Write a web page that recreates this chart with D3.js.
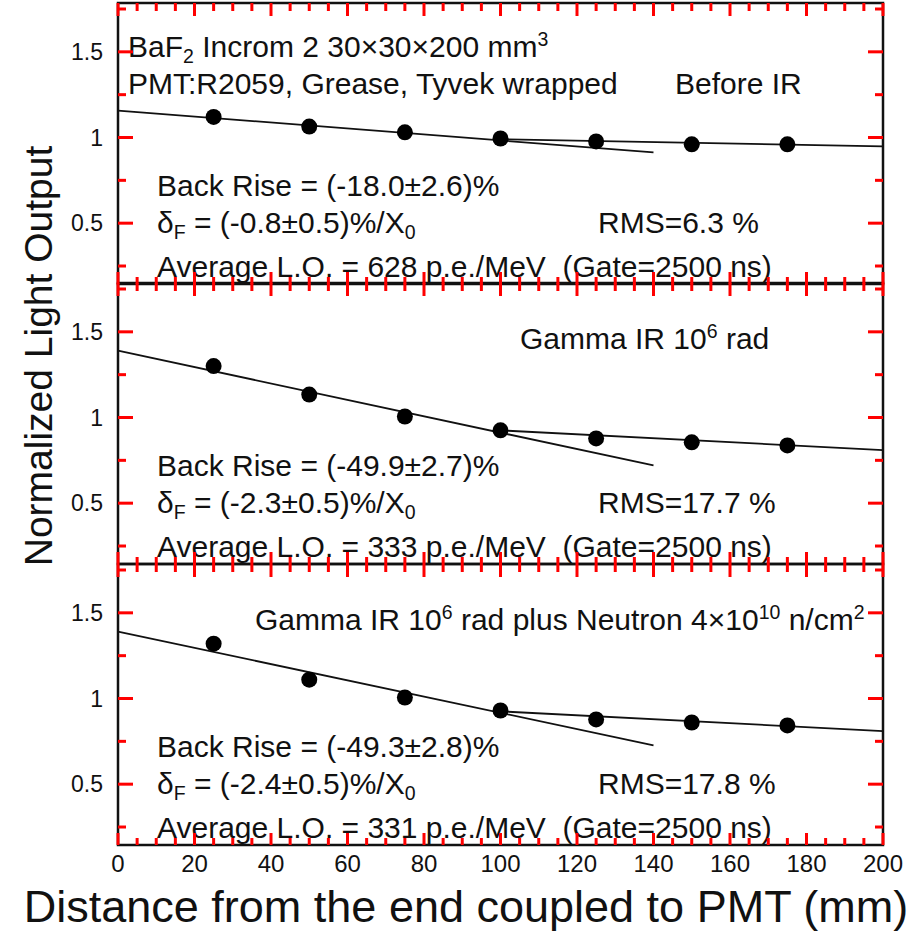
<!DOCTYPE html>
<html>
<head>
<meta charset="utf-8">
<script src="https://cdn.jsdelivr.net/npm/d3@7"></script>
<style>
  body { margin: 0; background: #fff; }
  text { font-family: "Liberation Sans", Arial, sans-serif; fill: #111; white-space: pre; }
</style>
</head>
<body>
<div id="chart"></div>
<script>
// distance along crystal (mm)
var positions = [25, 50, 75, 100, 125, 150, 175];

// normalized light output
var beforeIR = [1.12, 1.064, 1.03, 0.994, 0.977, 0.96, 0.96];
var gammaIR = [1.30, 1.134, 1.006, 0.925, 0.878, 0.855, 0.837];
var gammaNeutronIR = [1.32, 1.11, 1.006, 0.93, 0.878, 0.86, 0.843];

// linear fits: [x0, y0, x1, y1]
var frontFits = [[0, 1.157, 140, 0.913], [0, 1.39, 140, 0.72], [0, 1.39, 140, 0.727]];
var backFits = [[100, 0.99, 200, 0.948], [100, 0.925, 200, 0.81], [100, 0.925, 200, 0.81]];

var backRise = ["(-18.0\u00b12.6)%", "(-49.9\u00b12.7)%", "(-49.3\u00b12.8)%"];
var deltaF = ["(-0.8\u00b10.5)%/X", "(-2.3\u00b10.5)%/X", "(-2.4\u00b10.5)%/X"];
var rms = ["RMS=6.3 %", "RMS=17.7 %", "RMS=17.8 %"];
var avgLO = [628, 333, 331];

var xMajor = [0, 20, 40, 60, 80, 100, 120, 140, 160, 180, 200];
var yMajor = [0.5, 1, 1.5];
var yMinor = [0.25, 0.75, 1.25, 1.75];

var width = 918, height = 934;
var plotL = 118, plotR = 883;
var panelTops = [3, 283, 564], panelH = 281;

var svg = d3.select("#chart").append("svg")
  .attr("width", width)
  .attr("height", height);

var x = d3.scaleLinear().domain([0, 200]).range([plotL, plotR]);
var xMinor = d3.range(5, 200, 5).filter(function(d){ return d % 20 != 0; });

var series = [beforeIR, gammaIR, gammaNeutronIR];
var tickSegs = [];

series.forEach(function(vals, p) {
  var pTop = panelTops[p], pBot = pTop + panelH;
  var y = d3.scaleLinear().domain([0.145, 1.785]).range([pBot, pTop]);
  var g = svg.append("g");

  // collect inward tick segments on all four sides
  xMajor.forEach(function(v) {
    tickSegs.push([x(v), pBot, x(v), pBot - 12]);
    tickSegs.push([x(v), pTop, x(v), pTop + 13]);
  });
  xMinor.forEach(function(v) {
    tickSegs.push([x(v), pBot, x(v), pBot - 7]);
    tickSegs.push([x(v), pTop, x(v), pTop + 8]);
  });
  yMajor.forEach(function(v) {
    tickSegs.push([plotL, y(v), plotL + 15, y(v)]);
    tickSegs.push([plotR, y(v), plotR - 15, y(v)]);
  });
  yMinor.forEach(function(v) {
    tickSegs.push([plotL, y(v), plotL + 8, y(v)]);
    tickSegs.push([plotR, y(v), plotR - 8, y(v)]);
  });

  g.selectAll(".ylab").data(yMajor).enter().append("text")
    .attr("x", plotL - 15).attr("y", function(d){ return y(d); })
    .attr("dy", "0.36em")
    .attr("text-anchor", "end")
    .attr("font-size", 23)
    .text(function(d){ return d3.format("")(d); });

  if (p == 2) {
    g.selectAll(".xlab").data(xMajor).enter().append("text")
      .attr("x", function(d){ return x(d); }).attr("y", pBot + 27)
      .attr("text-anchor", "middle")
      .attr("font-size", 24)
      .text(function(d){ return d; });
  }

  // fit lines
  [frontFits[p], backFits[p]].forEach(function(f) {
    g.append("line")
      .attr("x1", x(f[0])).attr("y1", y(f[1]))
      .attr("x2", x(f[2])).attr("y2", y(f[3]))
      .attr("stroke", "#111").attr("stroke-width", 1.8);
  });

  // points
  g.selectAll("circle").data(vals).enter().append("circle")
    .attr("cx", function(d, i){ return x(positions[i]); })
    .attr("cy", function(d){ return y(d); })
    .attr("r", 8)
    .attr("fill", "#000");

  // annotations
  var fs = 30;
  function txt(tx, ty) {
    return g.append("text").attr("x", tx).attr("y", pTop + ty).attr("font-size", fs);
  }
  function sub(t, s, shift) {
    t.append("tspan").attr("font-size", fs * 0.65).attr("baseline-shift", shift).text(s);
  }
  txt(157, 193).text("Back Rise = " + backRise[p]);
  var df = txt(157, 230);
  df.append("tspan").text("\u03b4");
  sub(df, "F", "-30%");
  df.append("tspan").text(" = " + deltaF[p]);
  sub(df, "0", "-30%");
  txt(598, 230).text(rms[p]);
  txt(157, 274).text("Average L.O. = " + avgLO[p] + " p.e./MeV  (Gate=2500 ns)");

  if (p == 0) {
    var t1 = txt(128, 54);
    t1.append("tspan").text("BaF");
    sub(t1, "2", "-30%");
    t1.append("tspan").text(" Incrom 2 30\u00d730\u00d7200 mm");
    sub(t1, "3", "55%");
    txt(128, 91).text("PMT:R2059, Grease, Tyvek wrapped");
    txt(675, 91).text("Before IR");
  } else {
    var gt = txt(p == 1 ? 520 : 255, 66);
    gt.append("tspan").text("Gamma IR 10");
    sub(gt, "6", "55%");
    gt.append("tspan").text(" rad");
    if (p == 2) {
      gt.append("tspan").text(" plus Neutron 4\u00d710");
      sub(gt, "10", "55%");
      gt.append("tspan").text(" n/cm");
      sub(gt, "2", "55%");
    }
  }

  // frame
  g.append("rect")
    .attr("x", plotL).attr("y", pTop)
    .attr("width", plotR - plotL).attr("height", panelH)
    .attr("fill", "none").attr("stroke", "#111").attr("stroke-width", 2.5);
});

// ticks go on last, straight onto the svg
svg.append("g").attr("class", "ticks")
  .selectAll("line").data(tickSegs).enter().append("line")
  .attr("x1", function(s){ return s[0]; }).attr("y1", function(s){ return s[1]; })
  .attr("x2", function(s){ return s[2]; }).attr("y2", function(s){ return s[3]; })
  .attr("stroke", "red")
  .attr("stroke-width", 3);

svg.append("text")
  .attr("transform", "translate(52,356) rotate(-90)")
  .attr("text-anchor", "middle")
  .attr("font-size", 39)
  .text("Normalized Light Output");

svg.append("text")
  .attr("x", 466).attr("y", 922)
  .attr("text-anchor", "middle")
  .attr("font-size", 45)
  .text("Distance from the end coupled to PMT (mm)");
</script>
</body>
</html>
